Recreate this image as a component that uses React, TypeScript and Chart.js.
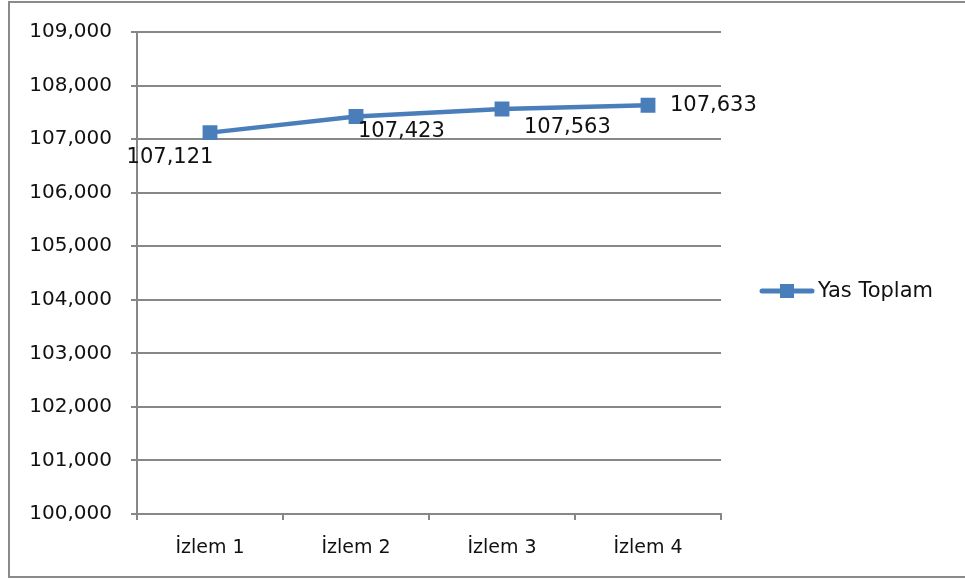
import React, { useEffect, useRef } from "react";
import { Chart, registerables } from "chart.js";

Chart.register(...registerables);

const categories = ["İzlem 1", "İzlem 2", "İzlem 3", "İzlem 4"];
const seriesName = "Yas Toplam";
const values = [107121, 107423, 107563, 107633];
const yMin = 100000;
const yMax = 109000;
const yStep = 1000;

// label placement relative to each point: [dx, dy, align]
const labelOffsets: [number, number, CanvasTextAlign][] = [
  [-40, 25, "center"],
  [2, 15, "left"],
  [22, 19, "left"],
  [22, 0, "left"],
];

const LINE_COLOR = "#4A7EBB";
const GRID_COLOR = "#878787";
const FONT = "DejaVu Sans";

const fmt = (v: number) => v.toLocaleString("en-US");

const framePlugin = {
  id: "frame",
  beforeDraw(chart: any) {
    const ctx = chart.ctx;
    ctx.save();
    ctx.fillStyle = "#ffffff";
    ctx.fillRect(0, 0, chart.width, chart.height);
    ctx.strokeStyle = "#8a8a8a";
    ctx.lineWidth = 2;
    ctx.beginPath();
    ctx.moveTo(chart.width + 5, 2);
    ctx.lineTo(9, 2);
    ctx.lineTo(9, 577);
    ctx.lineTo(chart.width + 5, 577);
    ctx.stroke();
    ctx.restore();
  },
};

const labelPlugin = {
  id: "pointLabels",
  afterDatasetsDraw(chart: any) {
    const ctx = chart.ctx;
    const meta = chart.getDatasetMeta(0);
    const data = chart.data.datasets[0].data as number[];
    ctx.save();
    ctx.font = `21px "${FONT}"`;
    ctx.fillStyle = "#111111";
    ctx.textBaseline = "middle";
    meta.data.forEach((pt: any, i: number) => {
      const [dx, dy, align] = labelOffsets[i];
      ctx.textAlign = align;
      ctx.fillText(fmt(data[i]), pt.x + dx, pt.y + dy);
    });
    ctx.restore();
  },
};

const legendPlugin = {
  id: "customLegend",
  afterDraw(chart: any) {
    const ctx = chart.ctx;
    const ds = chart.data.datasets[0];
    const y = 291;
    ctx.save();
    ctx.strokeStyle = LINE_COLOR;
    ctx.lineWidth = 5;
    ctx.lineCap = "round";
    ctx.beginPath();
    ctx.moveTo(762, y);
    ctx.lineTo(812, y);
    ctx.stroke();
    ctx.fillStyle = LINE_COLOR;
    ctx.fillRect(780, y - 7, 14, 14);
    ctx.font = `21px "${FONT}"`;
    ctx.fillStyle = "#111111";
    ctx.textAlign = "left";
    ctx.textBaseline = "middle";
    ctx.fillText(ds.label, 818, y + 1);
    ctx.restore();
  },
};

export default function App() {
  const ref = useRef<HTMLCanvasElement | null>(null);

  useEffect(() => {
    document.body.style.margin = "0";
    if (!ref.current) return;
    const chart = new Chart(ref.current, {
      type: "line",
      data: {
        labels: categories,
        datasets: [
          {
            label: seriesName,
            data: values,
            borderColor: LINE_COLOR,
            backgroundColor: LINE_COLOR,
            borderWidth: 4.5,
            pointStyle: "rect",
            pointRadius: 10.5,
            pointHoverRadius: 10.5,
            pointBorderWidth: 0,
            tension: 0,
          },
        ],
      },
      options: {
        responsive: false,
        animation: false,
        devicePixelRatio: 1,
        layout: { padding: { top: 32, right: 244, bottom: 0, left: 0 } },
        plugins: {
          legend: { display: false },
          tooltip: { enabled: false },
          title: { display: false },
        },
        scales: {
          x: {
            offset: true,
            grid: {
              display: true,
              offset: true,
              drawOnChartArea: false,
              drawTicks: true,
              tickLength: 6,
              color: GRID_COLOR,
              lineWidth: 2,
            },
            border: { display: true, color: GRID_COLOR, width: 2 },
            ticks: {
              color: "#111111",
              padding: 17,
              font: { family: FONT, size: 19 },
              maxRotation: 0,
            },
            afterFit(scale: any) {
              scale.height = 65;
            },
          },
          y: {
            min: yMin,
            max: yMax,
            grid: {
              color: GRID_COLOR,
              lineWidth: 2,
              tickLength: 6,
              drawTicks: true,
            },
            border: { display: true, color: GRID_COLOR, width: 2 },
            ticks: {
              stepSize: yStep,
              color: "#111111",
              padding: 19,
              font: { family: FONT, size: 20 },
              callback: (v: any) => fmt(Number(v)),
            },
            afterFit(scale: any) {
              scale.width = 137;
            },
          },
        },
      },
      plugins: [framePlugin, labelPlugin, legendPlugin],
    });
    return () => chart.destroy();
  }, []);

  return (
    <div style={{ width: 965, height: 579 }}>
      <canvas ref={ref} width={965} height={579} style={{ display: "block" }} />
    </div>
  );
}
